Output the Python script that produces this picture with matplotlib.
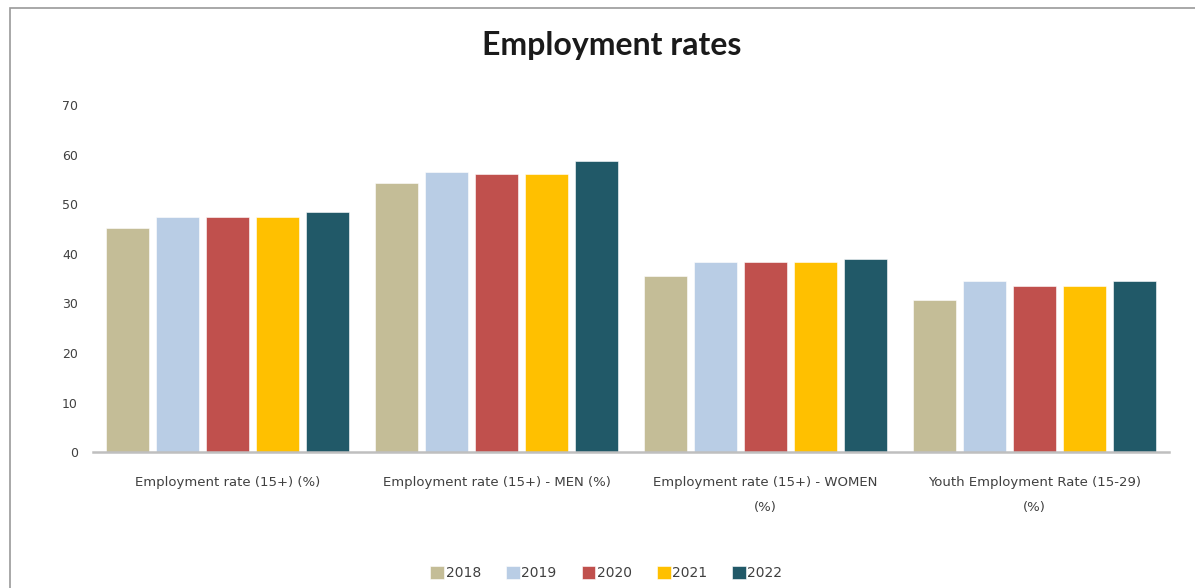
import matplotlib.pyplot as plt
import numpy as np
from matplotlib.patches import Rectangle

categories = [
    "Employment rate (15+) (%)",
    "Employment rate (15+) - MEN (%)",
    "Employment rate (15+) - WOMEN\n(%)",
    "Youth Employment Rate (15-29)\n(%)",
]
years = ["2018", "2019", "2020", "2021", "2022"]
rate_2018 = [45.3, 54.4, 35.6, 30.8]
rate_2019 = [47.5, 56.6, 38.3, 34.6]
rate_2020 = [47.5, 56.1, 38.3, 33.5]
rate_2021 = [47.5, 56.1, 38.3, 33.5]
rate_2022 = [48.5, 58.8, 38.9, 34.6]
colors = ["#C4BD97", "#B9CDE5", "#C0504D", "#FFC000", "#215968"]

series = [rate_2018, rate_2019, rate_2020, rate_2021, rate_2022]

plt.rcParams['font.family'] = ['DejaVu Sans']

fig = plt.figure(figsize=(11.95, 5.88), dpi=100)
ax = fig.add_axes([0.078, 0.231, 0.900, 0.590])

# chart frame
fig.patches.append(Rectangle((10 / 1195, -0.05), 1.2, 1 - 8 / 588 + 0.05,
                             transform=fig.transFigure, fill=False,
                             edgecolor="#9A9A9A", linewidth=1.2))

x = np.arange(len(categories))
pitch = 0.186
width = 0.16
for i, (yr, vals) in enumerate(zip(years, series)):
    ax.bar(x + (i - 2) * pitch, vals, width, color=colors[i], label=yr,
           edgecolor="white", linewidth=0.4)

ax.set_xlim(-0.5, len(categories) - 0.5)
ax.set_ylim(0, 70)
ax.set_yticks(range(0, 71, 10))
ax.set_xticks(x)
ax.set_xticklabels(categories, fontsize=9.5, color="#404040", linespacing=2.2,
                   va="top")
ax.tick_params(axis="y", length=0, labelsize=9, labelcolor="#404040", pad=11)
ax.tick_params(axis="x", length=0, pad=17)
for s in ["top", "right", "left"]:
    ax.spines[s].set_visible(False)
ax.spines["bottom"].set_color("#BFBFBF")
ax.spines["bottom"].set_linewidth(1.8)

fig.text(0.512, 0.922, "Employment rates", ha="center", va="center",
         fontsize=23, fontweight="bold", color="#1a1a1a", family="Lato")

fig.legend(loc="center", bbox_to_anchor=(0.5075, 0.025), ncol=5, frameon=False,
           fontsize=10, handlelength=1.0, handleheight=1.0, handletextpad=0.1,
           columnspacing=1.8, labelcolor="#404040")

fig.savefig("out.png", dpi=100, facecolor="white")
